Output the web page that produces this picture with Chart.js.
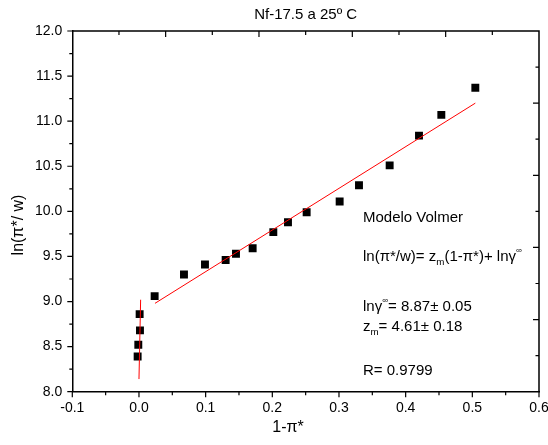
<!DOCTYPE html>
<html>
<head>
<meta charset="utf-8">
<script src="https://cdn.jsdelivr.net/npm/chart.js@4.4.0/dist/chart.umd.min.js"></script>
<style>body{margin:0;background:#fff}</style>
</head>
<body>
<canvas id="chart" width="548" height="445"></canvas>
<script>
// measured points, 1-pi* vs ln(pi*/w)
const piX = [-0.002, -0.001, 0.0015, 0.001, 0.0235, 0.0675, 0.099, 0.130, 0.1455, 0.1705,
             0.2015, 0.2235, 0.2515, 0.301, 0.330, 0.376, 0.420, 0.4535, 0.5045];
const lnY = [8.39, 8.52, 8.68, 8.86, 9.06, 9.30, 9.41, 9.46, 9.53, 9.59,
             9.77, 9.88, 9.99, 10.11, 10.29, 10.51, 10.84, 11.07, 11.37];

// Volmer fit line and the steep line near 0
const fitX = [0.024, 0.5045];
const fitY = [8.98, 11.20];
const steepX = [0.0, 0.0025];
const steepY = [8.14, 9.02];

const titleText = 'Nf-17.5 a 25º C';
const xTitle = '1-π*';
const yTitle = 'ln(π*/ w)';

// annotation lines: [text, mode] where mode is '', 'sub' or 'sup'
const noteLines = [
    [['Modelo Volmer', '']],
    [['ln(π*/w)= z', ''], ['m', 'sub'], ['(1-π*)+ lnγ', ''], ['∞', 'sup']],
    [['lnγ', ''], ['∞', 'sup'], ['= 8.87± 0.05', '']],
    [['z', ''], ['m', 'sub'], ['= 4.61± 0.18', '']],
    [['R= 0.9799', '']]
];
const noteRows = [217.5, 257, 307, 327, 371];

function pairs(xs, ys) {
    let out = [];
    for (let i = 0; i < xs.length; i++) out.push({x: xs[i], y: ys[i]});
    return out;
}

const FONT = '"Liberation Sans", Arial, sans-serif';

function drawRich(ctx, x, y, parts, size) {
    ctx.textBaseline = 'middle';
    ctx.textAlign = 'left';
    parts.forEach(p => {
        let s = size, dy = 0;
        if (p[1] === 'sub') { s = size * 0.65; dy = size * 0.38; }
        if (p[1] === 'sup') { s = size * 0.55; dy = -size * 0.42; }
        ctx.font = s + 'px ' + FONT;
        ctx.fillText(p[0], x, y + dy);
        x += ctx.measureText(p[0]).width;
    });
}

const frame = {
    id: 'frame',
    afterDraw(chart) {
        const ctx = chart.ctx;
        const a = chart.chartArea;
        const x = chart.scales.x, y = chart.scales.y;
        ctx.save();
        ctx.strokeStyle = '#000';
        ctx.lineWidth = 1.5;
        ctx.beginPath();
        ctx.moveTo(a.left, a.top);
        ctx.lineTo(a.right, a.top);
        ctx.lineTo(a.right, a.bottom);
        ctx.stroke();

        ctx.lineWidth = 1.2;
        ctx.beginPath();
        // bottom, outward
        let n = Math.round((x.max - x.min) / 0.05);
        for (let i = 0; i <= n; i++) {
            const px = x.getPixelForValue(x.min + i * 0.05);
            ctx.moveTo(px, a.bottom);
            ctx.lineTo(px, a.bottom + (i % 2 ? 3.5 : 5.5));
        }
        // left, outward
        n = Math.round((y.max - y.min) / 0.25);
        for (let i = 0; i <= n; i++) {
            const py = y.getPixelForValue(y.min + i * 0.25);
            ctx.moveTo(a.left, py);
            ctx.lineTo(a.left - (i % 2 ? 3 : 5), py);
        }
        // top and right, inward, ten divisions
        for (let i = 1; i < 10; i++) {
            const px = x.getPixelForValue(x.min + i * (x.max - x.min) / 10);
            ctx.moveTo(px, a.top);
            ctx.lineTo(px, a.top + (i % 2 ? 4 : 6));
            const py = y.getPixelForValue(y.max - i * (y.max - y.min) / 10);
            ctx.moveTo(a.right, py);
            ctx.lineTo(a.right - (i % 2 ? 3.5 : 6), py);
        }
        ctx.stroke();

        ctx.fillStyle = '#000';
        ctx.textAlign = 'center';
        ctx.textBaseline = 'middle';
        ctx.font = '15px ' + FONT;
        ctx.fillText(titleText, (a.left + a.right) / 2, 15);
        ctx.font = '16px ' + FONT;
        ctx.fillText(xTitle, 288, 428);
        ctx.save();
        ctx.translate(19, 225);
        ctx.rotate(-Math.PI / 2);
        ctx.fillText(yTitle, 0, 0);
        ctx.restore();

        const nx = x.getPixelForValue(0.336);
        noteLines.forEach((line, i) => drawRich(ctx, nx, noteRows[i], line, 15));
        ctx.restore();
    }
};

const tickFont = {family: FONT, size: 14};

new Chart(document.getElementById('chart'), {
    type: 'scatter',
    data: {
        datasets: [
            {
                data: pairs(fitX, fitY),
                showLine: true,
                borderColor: '#ff0000',
                borderWidth: 1,
                pointRadius: 0
            },
            {
                data: pairs(steepX, steepY),
                showLine: true,
                borderColor: '#ff0000',
                borderWidth: 1,
                pointRadius: 0
            },
            {
                data: pairs(piX, lnY),
                pointStyle: 'rect',
                pointRadius: 5.6,
                pointBorderWidth: 0,
                backgroundColor: '#000',
                borderColor: '#000'
            }
        ]
    },
    options: {
        responsive: false,
        animation: false,
        devicePixelRatio: 1,
        layout: {autoPadding: false, padding: {top: 31, right: 9, left: 0, bottom: 0}},
        plugins: {legend: {display: false}, tooltip: {enabled: false}},
        scales: {
            x: {
                type: 'linear',
                min: -0.1,
                max: 0.6,
                afterFit(s) {
                    s.height = 53.3;
                    s.paddingLeft = 0;
                    s.paddingRight = 0;
                },
                ticks: {
                    stepSize: 0.1,
                    padding: 8,
                    color: '#000',
                    font: tickFont,
                    maxRotation: 0,
                    callback(v) { return Math.abs(v) < 1e-9 ? '0.0' : v.toFixed(1); }
                },
                grid: {display: true, drawOnChartArea: false, drawTicks: false},
                border: {display: true, color: '#000', width: 1.5}
            },
            y: {
                type: 'linear',
                min: 8.0,
                max: 12.0,
                afterFit(s) {
                    s.width = 72.3;
                    s.paddingTop = 0;
                    s.paddingBottom = 0;
                },
                ticks: {
                    stepSize: 0.5,
                    padding: 10,
                    color: '#000',
                    font: tickFont,
                    callback(v) { return v.toFixed(1); }
                },
                grid: {display: true, drawOnChartArea: false, drawTicks: false},
                border: {display: true, color: '#000', width: 1.5}
            }
        }
    },
    plugins: [frame]
});
</script>
</body>
</html>
